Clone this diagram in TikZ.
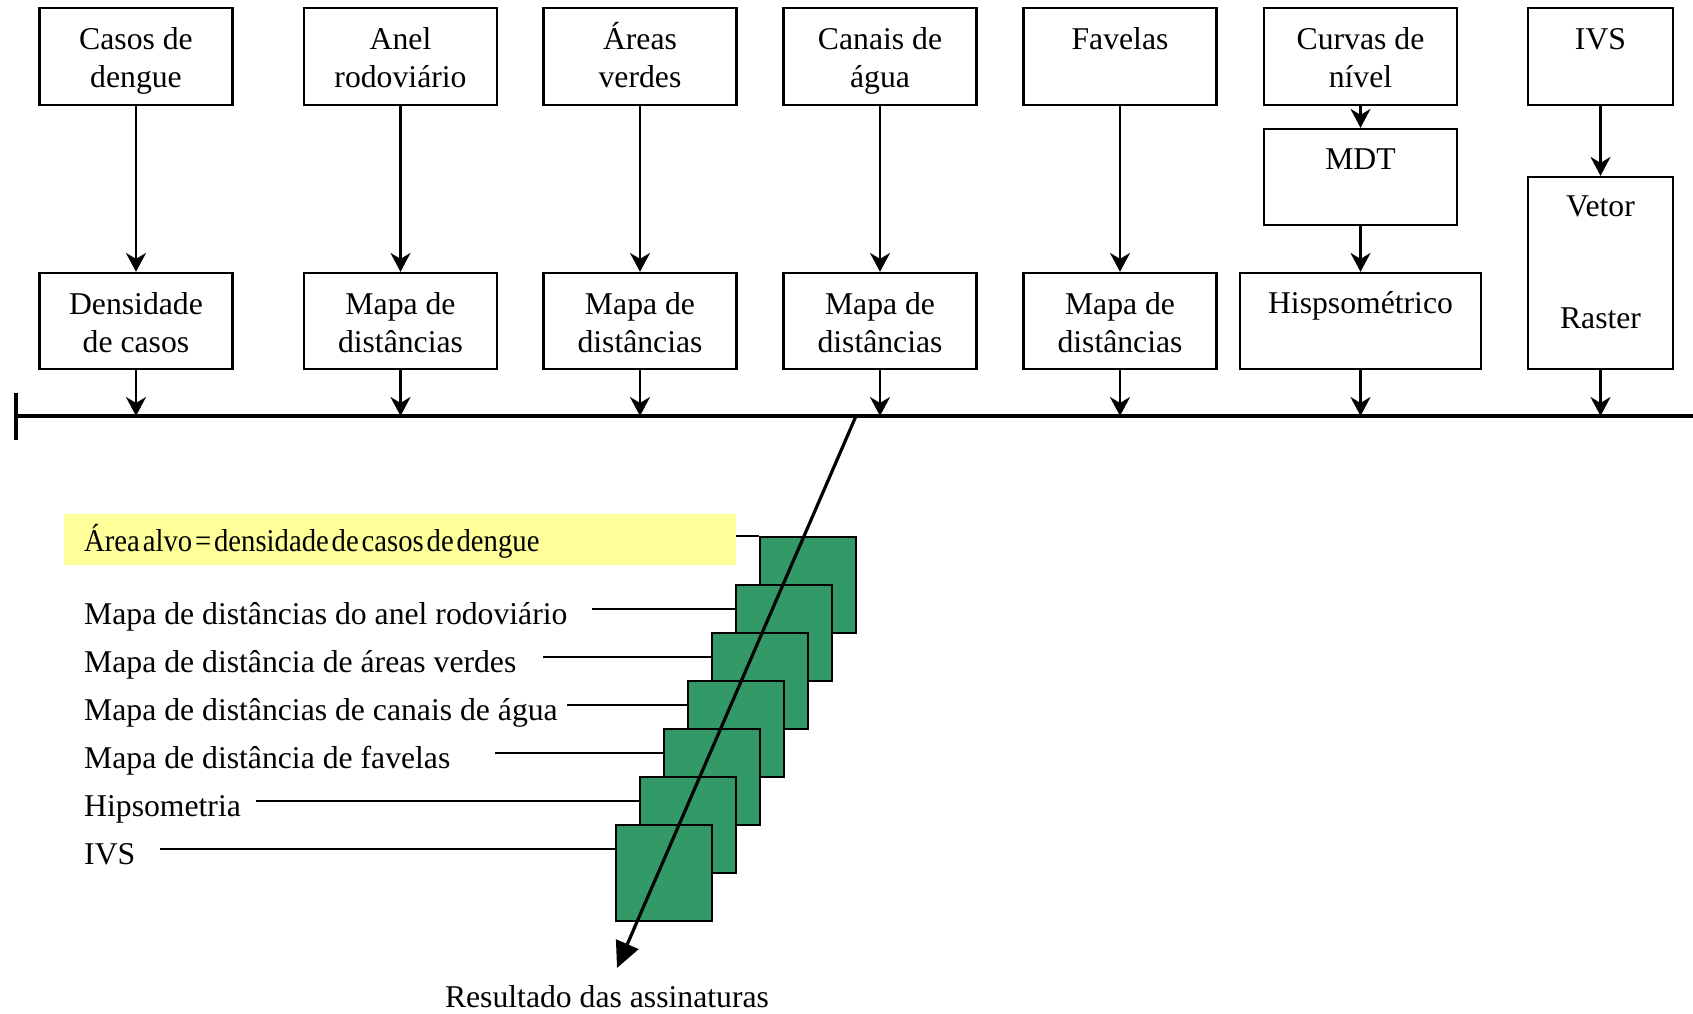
\documentclass[tikz,border=0pt]{standalone}
\usepackage{fontspec}
\usepackage{graphicx}
\setmainfont{Liberation Serif}
\usetikzlibrary{arrows.meta,calc}
\definecolor{sqgreen}{RGB}{51,153,102}
\definecolor{hlyellow}{RGB}{255,255,153}
\begin{document}
\begin{tikzpicture}[x=1pt,y=-1pt,
  box/.style={draw, line width=2.2pt, inner sep=0pt, minimum width=193pt, minimum height=97pt},
  lbl/.style={align=center, inner sep=0pt, anchor=base, font=\fontsize{31.7}{38}\selectfont},
  leg/.style={inner sep=0pt, anchor=base west, font=\fontsize{31.7}{38}\selectfont},
  flow/.style={line width=2.2pt, -{Stealth[length=19pt,width=20pt,inset=6pt]}},
  sq/.style={draw, line width=2.2pt, fill=sqgreen, minimum size=96pt, inner sep=0pt},
  lead/.style={line width=2.2pt}]
\useasboundingbox (0,0) rectangle (1693,1013);

% top row
\node[box] (b1) at (136,56.5) {};
\node[box] (b2) at (400.5,56.5) {};
\node[box] (b3) at (640,56.5) {};
\node[box] (b4) at (880,56.5) {};
\node[box] (b5) at (1120,56.5) {};
\node[box] (b6) at (1360.5,56.5) {};
\node[box, minimum width=145pt] (b7) at (1600.5,56.5) {};
\node[lbl] (tb1) at (136,87) {Casos de\\dengue};
\node[lbl] (tb2) at (400.5,87) {Anel\\rodoviário};
\node[lbl] (tb3) at (640,87) {Áreas\\verdes};
\node[lbl] (tb4) at (880,87) {Canais de\\água};
\node[lbl] (tb5) at (1120,49) {Favelas};
\node[lbl] (tb6) at (1360.5,87) {Curvas de\\nível};
\node[lbl] (tb7) at (1600.5,49) {IVS};

% middle
\node[box, minimum height=96pt] (m6) at (1360.5,177) {};
\node[lbl] (tm6) at (1360.5,169) {MDT};
\node[box, minimum width=145pt, minimum height=192pt] (n7) at (1600.5,273) {};
\node[lbl] (tv) at (1600.5,216) {Vetor};
\node[lbl] (tr) at (1600.5,328) {Raster};

% second row
\node[box, minimum height=96pt] (n1) at (136,321) {};
\node[box, minimum height=96pt] (n2) at (400.5,321) {};
\node[box, minimum height=96pt] (n3) at (640,321) {};
\node[box, minimum height=96pt] (n4) at (880,321) {};
\node[box, minimum height=96pt] (n5) at (1120,321) {};
\node[box, minimum height=96pt, minimum width=241pt] (n6) at (1360.5,321) {};
\node[lbl] (tn1) at (136,352) {Densidade\\de casos};
\node[lbl] (tn2) at (400.5,352) {Mapa de\\distâncias};
\node[lbl] (tn3) at (640,352) {Mapa de\\distâncias};
\node[lbl] (tn4) at (880,352) {Mapa de\\distâncias};
\node[lbl] (tn5) at (1120,352) {Mapa de\\distâncias};
\node[lbl] (tn6) at (1360.5,313) {Hispsométrico};

% arrows top -> second
\foreach \i in {1,...,5} \draw[flow] (b\i.south) -- (n\i.north);
\draw[flow] (b6.south) -- (m6.north);
\draw[flow] (m6.south) -- (n6.north);
\draw[flow] (b7.south) -- (n7.north);

% main line
\coordinate (L0) at (16,416);
\coordinate (L1) at (1693,416);
\draw[line width=3.4pt] (L0) -- (L1);
\draw[line width=3.4pt] (16,393) -- (16,440);
\foreach \i in {1,...,7} \draw[flow] (n\i.south) -- (n\i.south |- L0);

% yellow highlight
\node[fill=hlyellow, inner sep=0pt, minimum width=672pt, minimum height=51pt] (yl) at (400,539.5) {};
\node[leg] (ty) at (84,551) {\scalebox{0.905}[1]{\spaceskip=0.1em Área alvo = densidade de casos de dengue}};

% green squares
\foreach \k in {0,...,6} \node[sq] (g\k) at ({808-24*\k},{585+48*\k}) {};

% leader lines
\draw[lead] (yl.east |- g0.north) -- (g0.north west);
\coordinate (s1) at (592,609);
\coordinate (s2) at (543,657);
\coordinate (s3) at (567,705);
\coordinate (s4) at (494.5,753);
\coordinate (s5) at (256,801);
\coordinate (s6) at (160,849);
\foreach \k in {1,...,6} \draw[lead] (s\k) -- (s\k -| g\k.west);
\node[leg] (l1) at (84,624) {Mapa de distâncias do anel rodoviário};
\node[leg] (l2) at (84,672) {Mapa de distância de áreas verdes};
\node[leg] (l3) at (84,720) {Mapa de distâncias de canais de água};
\node[leg] (l4) at (84,768) {Mapa de distância de favelas};
\node[leg] (l5) at (84,816) {Hipsometria};
\node[leg] (l6) at (84,864) {IVS};

% diagonal result arrow
\coordinate (d0) at (856,416);
\coordinate (d1) at (617,968);
\draw[line width=3.2pt, -{Triangle[length=26pt,width=24pt]}] (d0) -- (d1);
\node[lbl] (res) at (607,1007) {Resultado das assinaturas};
\end{tikzpicture}
\end{document}
